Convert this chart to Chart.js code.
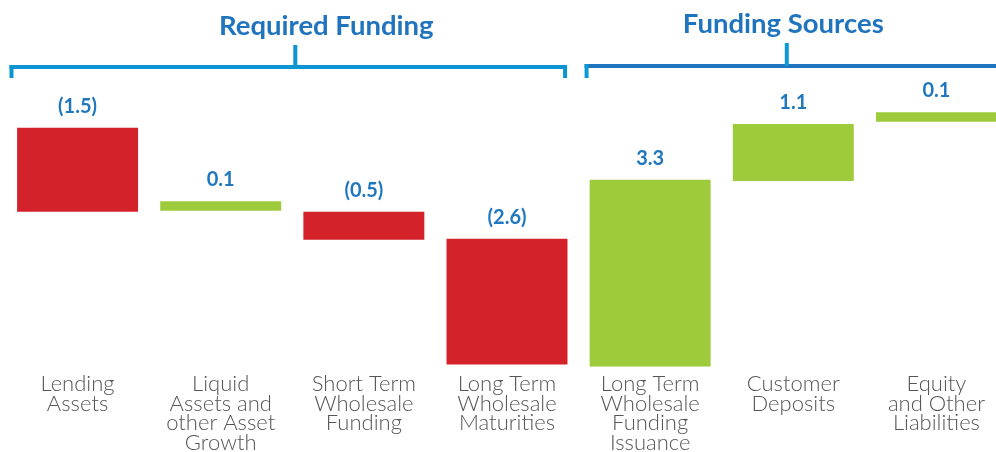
<!DOCTYPE html>
<html><head><meta charset="utf-8">
<script src="https://cdn.jsdelivr.net/npm/chart.js@4/dist/chart.umd.min.js"></script>
<style>
html,body{margin:0;padding:0;background:#fff;overflow:hidden;width:996px;height:452px;}
#wrap{position:relative;width:1008px;height:465px;}
</style></head><body>
<div id="wrap"><canvas id="c"></canvas></div>
<script>
// ---- data ----
const categories = [
  ["Lending", "Assets"],
  ["Liquid", "Assets and", "other Asset", "Growth"],
  ["Short Term", "Wholesale", "Funding"],
  ["Long Term", "Wholesale", "Maturities"],
  ["Long Term", "Wholesale", "Funding", "Issuance"],
  ["Customer", "Deposits"],
  ["Equity", "and Other", "Liabilities"]
];
const barLow  = [2.77, 2.79, 2.27, 0.04, 0.00, 3.32, 4.38];
const barHigh = [4.27, 2.96, 2.77, 2.29, 3.34, 4.34, 4.55];
const valueLabels = ["(1.5)", "0.1", "(0.5)", "(2.6)", "3.3", "1.1", "0.1"];
const isOutflow = [true, false, true, true, false, false, false];
const groupTitles = ["Required Funding", "Funding Sources"];
const groupFirst = [0, 4];
const groupLast = [3, 6];

const RED = "#d3222a", GREEN = "#9dcb3b", BLUE = "#1f74bd";
const FONT = "Lato, 'Open Sans', sans-serif";

const decor = {
  id: "decor",
  afterDatasetsDraw(chart) {
    const ctx = chart.ctx;
    const meta = chart.getDatasetMeta(0);
    ctx.save();
    ctx.fillStyle = "#1f77c0";
    ctx.font = "bold 20px " + FONT;
    ctx.textAlign = "center";
    ctx.textBaseline = "alphabetic";
    meta.data.forEach((el, i) => {
      const top = Math.min(el.y, el.base);
      ctx.fillText(valueLabels[i], el.x, top - 15);
    });
    ctx.restore();
  },
  afterDraw(chart) {
    const ctx = chart.ctx;
    const xs = chart.scales.x;
    const step = xs.getPixelForValue(1) - xs.getPixelForValue(0);
    const catL = i => xs.getPixelForValue(i) - step / 2;
    const catR = i => xs.getPixelForValue(i) + step / 2;
    const st = [
      {l: 5.5, r: -13.5, y: 67, top: 45, tick: 3, title: 34, base: 35, line: "#0b95d3", end: "#0b95d3"},
      {l: 8, r: -5, y: 66, top: 43, tick: -6.5, title: -10, base: 33, line: "#1f74bd", end: "#0b9ad6"}
    ];
    ctx.save();
    groupTitles.forEach((t, g) => {
      const s = st[g];
      const L = catL(groupFirst[g]) + s.l;
      const R = catR(groupLast[g]) + s.r;
      const mid = (catL(groupFirst[g]) + catR(groupLast[g])) / 2;
      ctx.lineWidth = 4;
      ctx.lineCap = "butt";
      ctx.strokeStyle = s.line;
      ctx.beginPath(); ctx.moveTo(L - 2, s.y); ctx.lineTo(R + 2, s.y); ctx.stroke();
      ctx.strokeStyle = s.end;
      ctx.beginPath(); ctx.moveTo(L, s.y - 2); ctx.lineTo(L, 78); ctx.stroke();
      ctx.beginPath(); ctx.moveTo(R, s.y - 2); ctx.lineTo(R, 78); ctx.stroke();
      ctx.beginPath(); ctx.moveTo(mid + s.tick, s.y); ctx.lineTo(mid + s.tick, s.top); ctx.stroke();
      ctx.fillStyle = BLUE;
      ctx.font = "bold 27.5px " + FONT;
      ctx.textAlign = "center";
      ctx.textBaseline = "alphabetic";
      ctx.fillText(t, mid + s.title, s.base);
    });
    ctx.restore();
  }
};

new Chart(document.getElementById("c"), {
  type: "bar",
  data: {
    labels: categories,
    datasets: [{
      data: barLow.map((lo, i) => [lo, barHigh[i]]),
      backgroundColor: isOutflow.map(o => o ? RED : GREEN),
      borderWidth: 0,
      barPercentage: 0.845,
      categoryPercentage: 1.0
    }]
  },
  options: {
    responsive: true,
    maintainAspectRatio: false,
    animation: false,
    layout: {padding: {left: 6, right: 0, top: 3, bottom: 5}},
    plugins: {legend: {display: false}, tooltip: {enabled: false}},
    scales: {
      x: {
        grid: {display: false, drawTicks: false},
        border: {display: false},
        ticks: {
          color: "#555555",
          font: {family: FONT, size: 22, weight: 300, lineHeight: 0.9},
          padding: 7,
          maxRotation: 0,
          autoSkip: false
        }
      },
      y: {display: false, min: 0, max: 6.5}
    }
  },
  plugins: [decor]
});
</script>
</body></html>
